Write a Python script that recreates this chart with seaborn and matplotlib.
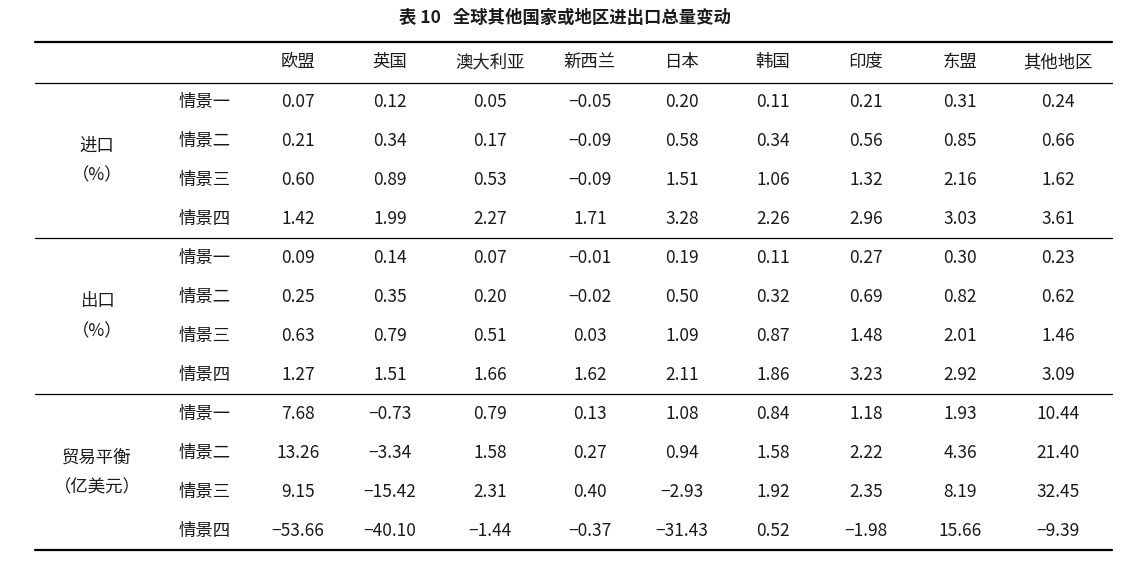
import matplotlib
matplotlib.use("Agg")
import matplotlib.pyplot as plt
from matplotlib import font_manager
import seaborn as sns

# pick an installed CJK font by name
cjk = [f.name for f in font_manager.fontManager.ttflist if "CJK" in f.name]
family = [n for n in ["Noto Sans CJK SC", "Noto Sans CJK JP"] if n in cjk] or cjk[:1] or ["DejaVu Sans"]

sns.set_theme(style="white", font=family[0])
plt.rcParams["font.family"] = family + ["DejaVu Sans"]

title = "表 10   全球其他国家或地区进出口总量变动"
regions = ["欧盟", "英国", "澳大利亚", "新西兰", "日本", "韩国", "印度", "东盟", "其他地区"]
groups = ["进口\n（%）", "出口\n（%）", "贸易平衡\n（亿美元）"]
scenarios = ["情景一", "情景二", "情景三", "情景四"]

imports = [
    [0.07, 0.12, 0.05, -0.05, 0.20, 0.11, 0.21, 0.31, 0.24],
    [0.21, 0.34, 0.17, -0.09, 0.58, 0.34, 0.56, 0.85, 0.66],
    [0.60, 0.89, 0.53, -0.09, 1.51, 1.06, 1.32, 2.16, 1.62],
    [1.42, 1.99, 2.27, 1.71, 3.28, 2.26, 2.96, 3.03, 3.61],
]
exports = [
    [0.09, 0.14, 0.07, -0.01, 0.19, 0.11, 0.27, 0.30, 0.23],
    [0.25, 0.35, 0.20, -0.02, 0.50, 0.32, 0.69, 0.82, 0.62],
    [0.63, 0.79, 0.51, 0.03, 1.09, 0.87, 1.48, 2.01, 1.46],
    [1.27, 1.51, 1.66, 1.62, 2.11, 1.86, 3.23, 2.92, 3.09],
]
balance = [
    [7.68, -0.73, 0.79, 0.13, 1.08, 0.84, 1.18, 1.93, 10.44],
    [13.26, -3.34, 1.58, 0.27, 0.94, 1.58, 2.22, 4.36, 21.40],
    [9.15, -15.42, 2.31, 0.40, -2.93, 1.92, 2.35, 8.19, 32.45],
    [-53.66, -40.10, -1.44, -0.37, -31.43, 0.52, -1.98, 15.66, -9.39],
]
blocks = [imports, exports, balance]

fig = plt.figure(figsize=(11.31, 5.66), dpi=100)
ax = fig.add_axes([0, 0, 1, 1])
ax.set_xlim(0, 1131)
ax.set_ylim(566, 0)
ax.axis("off")

col_x = [298, 390, 490, 590, 682, 773, 866, 960, 1058]
group_x, scen_x = 97, 205
fs = 12.5
tc = "#1a1a1a"

ax.text(565, 18, title, ha="center", va="center", fontsize=12.5, fontweight="bold", color=tc)
ax.plot([35, 1112], [42, 42], color="black", lw=1.6)
for x, r in zip(col_x, regions):
    ax.text(x, 62, r, ha="center", va="center", fontsize=fs, color=tc)
ax.plot([35, 1112], [83, 83], color="black", lw=0.9)

row_h = 39
y0 = 102
for b, data in enumerate(blocks):
    ys = [y0 + b * 156 + i * row_h for i in range(4)]
    ax.text(group_x, (ys[1] + ys[2]) / 2, groups[b], ha="center", va="center",
            fontsize=fs, linespacing=1.9, color=tc)
    for i, row in enumerate(data):
        ax.text(scen_x, ys[i], scenarios[i], ha="center", va="center", fontsize=fs, color=tc)
        for x, v in zip(col_x, row):
            s = f"{v:.2f}".replace("-", "−")
            ax.text(x, ys[i], s, ha="center", va="center", fontsize=fs, color=tc)
    if b < 2:
        yl = ys[3] + 19
        ax.plot([35, 1112], [yl, yl], color="black", lw=0.9)
ax.plot([35, 1112], [550, 550], color="black", lw=1.6)

fig.savefig("out.png", dpi=100)
